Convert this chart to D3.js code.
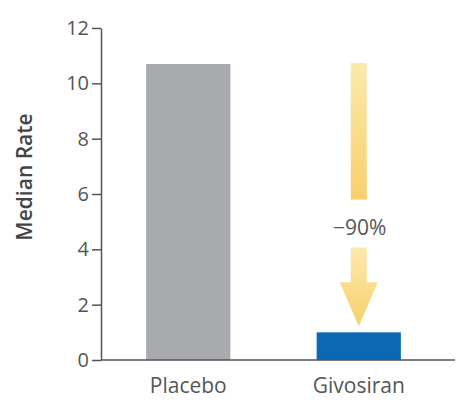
<!DOCTYPE html>
<html>
<head>
<meta charset="utf-8">
<script src="https://cdn.jsdelivr.net/npm/d3@7"></script>
<style>
  body { margin: 0; background: #fff; }
  text { font-family: "Open Sans", "DejaVu Sans", sans-serif; }
</style>
</head>
<body>
<div id="chart-container"></div>
<script>
// Data
const groups = ["Placebo", "Givosiran"];
const medianRates = [10.7, 1.0];
const barColors = ["#a8aaae", "#0b69b3"];
const yTicks = [0, 2, 4, 6, 8, 10, 12];
const changeLabel = "\u221290%";

const width = 462, height = 413;
const margin = { top: 28, right: 7, bottom: 53, left: 101 };

const svg = d3.select("#chart-container")
  .append("svg")
  .attr("width", width)
  .attr("height", height);

const defs = svg.append("defs");
const grad = defs.append("linearGradient")
  .attr("id", "arrowGrad")
  .attr("x1", 0).attr("y1", 0).attr("x2", 0).attr("y2", 1);
grad.append("stop").attr("offset", "0%").attr("stop-color", "#fce9ad");
grad.append("stop").attr("offset", "100%").attr("stop-color", "#f9cf6c");

const y = d3.scaleLinear()
  .domain([0, 12])
  .range([height - margin.bottom, margin.top]);

const x = d3.scaleBand()
  .domain(groups)
  .range([103, 444])
  .paddingInner(0.506)
  .paddingOuter(0.253);

// Bars
svg.selectAll("rect.bar")
  .data(groups)
  .join("rect")
  .attr("class", "bar")
  .attr("x", d => x(d))
  .attr("width", x.bandwidth())
  .attr("y", (d, i) => y(medianRates[i]))
  .attr("height", (d, i) => y(0) - y(medianRates[i]))
  .attr("fill", (d, i) => barColors[i]);

// Reduction arrow over the Givosiran bar
const cx = x("Givosiran") + x.bandwidth() / 2;
const yTop = y(medianRates[0]) - 1;
const yTip = y(medianRates[1]) - 6;
const shaftW = 16, headW = 38, headH = 44;
const labelY = yTop + 0.625 * (yTip - yTop);

const arrow = svg.append("g").attr("fill", "url(#arrowGrad)");
arrow.append("rect")
  .attr("x", cx - shaftW / 2)
  .attr("y", yTop)
  .attr("width", shaftW)
  .attr("height", labelY - 28 - yTop);
arrow.append("path")
  .attr("d", `M${cx - shaftW / 2},${labelY + 20}
    L${cx + shaftW / 2},${labelY + 20}
    L${cx + shaftW / 2},${yTip - headH}
    L${cx + headW / 2},${yTip - headH}
    L${cx},${yTip}
    L${cx - headW / 2},${yTip - headH}
    L${cx - shaftW / 2},${yTip - headH}Z`);

svg.append("text")
  .attr("x", cx + 1)
  .attr("y", labelY)
  .attr("dy", "0.35em")
  .attr("text-anchor", "middle")
  .attr("font-size", 21)
  .attr("fill", "#555")
  .text(changeLabel);

// Y axis
const yAxis = svg.append("g")
  .attr("transform", `translate(${margin.left},0)`)
  .call(d3.axisLeft(y).tickValues(yTicks).tickSize(9).tickSizeOuter(0).tickPadding(3));
yAxis.select(".domain").attr("stroke", "#555").attr("stroke-width", 1.5);
yAxis.selectAll(".tick line").attr("stroke", "#555").attr("stroke-width", 1.5);
yAxis.selectAll(".tick text")
  .attr("font-size", 20)
  .attr("fill", "#555")
  .attr("font-family", "\"Open Sans\", sans-serif");

// X axis
const xAxis = svg.append("g")
  .attr("transform", `translate(0,${y(0)})`)
  .call(d3.axisBottom(x).tickSize(0).tickPadding(18));
xAxis.select(".domain")
  .attr("d", `M${margin.left},0H${width - margin.right}`)
  .attr("stroke", "#555").attr("stroke-width", 1.5);
xAxis.selectAll(".tick text")
  .attr("font-size", 21)
  .attr("fill", "#555")
  .attr("font-family", "\"Open Sans\", sans-serif");

// Y axis label
svg.append("text")
  .attr("transform", `translate(25,${y(6) - 17}) rotate(-90)`)
  .attr("text-anchor", "middle")
  .attr("dy", "0.35em")
  .attr("font-size", 21)
  .attr("font-weight", "600")
  .attr("fill", "#444")
  .text("Median Rate");
</script>
</body>
</html>
